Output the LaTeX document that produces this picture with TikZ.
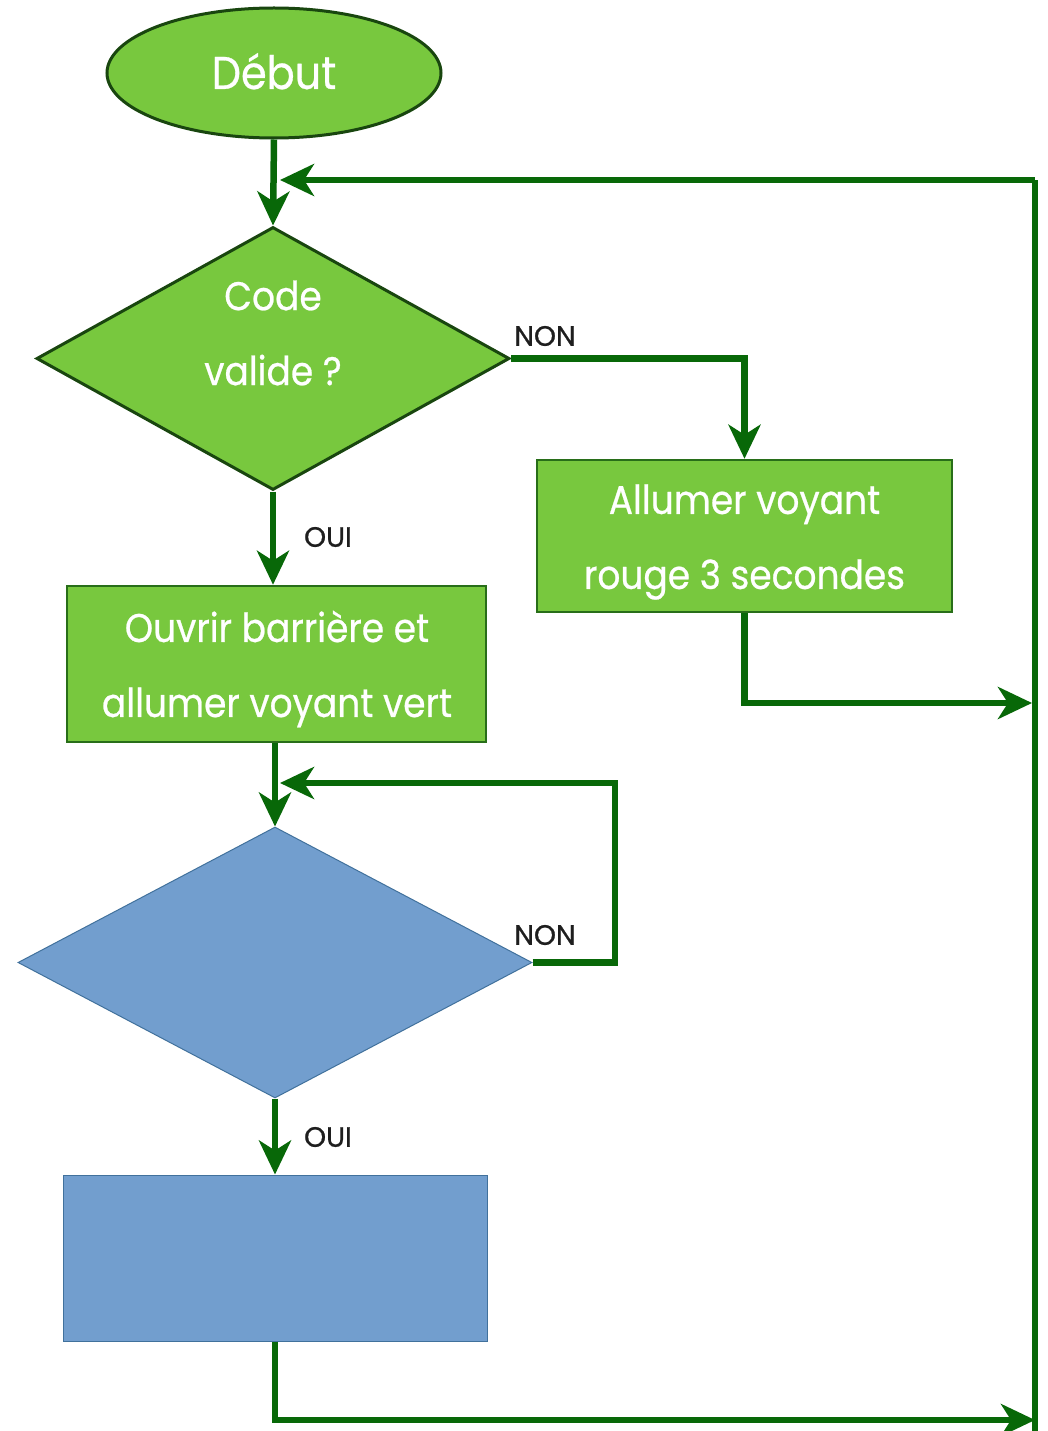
\documentclass[tikz,border=0pt]{standalone}
\usepackage{fontspec}
\setmainfont{Poppins}
\newfontfamily\boxfont[FakeStretch=0.9,FakeBold=0.6]{Poppins}
\newfontfamily\tagfont[FakeBold=0.8]{Poppins}
\usetikzlibrary{shapes.geometric,arrows.meta,calc}

\definecolor{leaf}{RGB}{120,200,62}
\definecolor{leafedge}{RGB}{40,110,25}
\definecolor{darkedge}{RGB}{25,70,15}
\definecolor{flowgreen}{RGB}{8,104,8}
\definecolor{sky}{RGB}{114,158,206}
\definecolor{skyedge}{RGB}{65,113,156}
\definecolor{labelgray}{RGB}{30,30,30}

\tikzset{
  startnode/.style={ellipse, fill=leaf, draw=darkedge, line width=3pt,
    minimum width=334pt, minimum height=130pt, inner sep=0pt,
    text=white, font=\boxfont\fontsize{46}{50}\selectfont},
  testnode/.style={diamond, fill=leaf, draw=darkedge, line width=3pt, inner sep=0pt},
  actnode/.style={rectangle, fill=leaf, draw=leafedge, line width=2.5pt, inner sep=0pt},
  boxtext/.style={text=white, align=center, inner sep=0pt,
    font=\boxfont\fontsize{40}{75}\selectfont},
  blanktest/.style={diamond, fill=sky, draw=skyedge, line width=1pt, inner sep=0pt},
  blankact/.style={rectangle, fill=sky, draw=skyedge, line width=1pt, inner sep=0pt},
  lbl/.style={text=labelgray, inner sep=0pt, font=\tagfont\fontsize{28}{30}\selectfont},
  link/.style={draw=flowgreen, line width=6.5pt},
  flow/.style={link, -{Stealth[length=34pt,width=32pt,inset=10pt]}},
}

\begin{document}
\begin{tikzpicture}[x=1pt,y=-1pt]
  \useasboundingbox (0,0) rectangle (1047,1431);
  \fill[white] (0,0) rectangle (1047,1431);

  % shapes
  \node[startnode] (debut) at (274,73) {\raisebox{4pt}{Début}};
  \node[testnode, minimum width=473pt, minimum height=263pt, aspect=1.8] (code) at (273,358.5) {};
  \node[boxtext] (codetxt) at (273,333) {Code\\valide ?};
  \node[actnode, minimum width=415pt, minimum height=152pt] (rouge) at (744.5,536) {};
  \node[boxtext] (rougetxt) at (744.5,542) {Allumer voyant\\rouge 3 secondes};
  \node[actnode, minimum width=419pt, minimum height=156pt] (ouvrir) at (276.5,664) {};
  \node[boxtext] (ouvrirtxt) at (277,669) {Ouvrir barrière et\\allumer voyant vert};
  \node[blanktest, minimum width=514pt, minimum height=271pt, aspect=1.9] (test2) at (275,962.5) {};
  \node[blankact, minimum width=424pt, minimum height=166pt] (final) at (275,1258) {};

  % junction points
  \coordinate (j1) at (280,180);
  \coordinate (j2) at (280,783);
  \coordinate (rbus) at (1035,180);
  \coordinate (rbot) at (1035,1420);
  \coordinate (rmid) at (1032,703);

  % labels
  \node[lbl] (non1) at (545,336) {NON};
  \node[lbl] (oui1) at (328,537) {OUI};
  \node[lbl] (non2) at (545,935) {NON};
  \node[lbl] (oui2) at (328,1137) {OUI};

  % connectors
  \draw[flow] (debut.south) -- (code.north);
  \draw[flow] (code.east) -- (rouge.north |- code.east) -- (rouge.north);
  \draw[flow] (code.south) -- (code.south |- ouvrir.north);
  \draw[flow] (rouge.south) -- (rouge.south |- rmid) -- (rmid);
  \draw[flow] (ouvrir.south -| test2.north) -- (test2.north);
  \draw[flow] (test2.east) -- (615,962.5) -- (615,783) -- (j2);
  \draw[flow] (test2.south) -- (final.north);
  \draw[flow] (final.south) -- (final.south |- rbot) -- (rbot);
  \draw[link] (1035,1431) -- (rbus);
  \draw[flow] (rbus) -- (j1);
\end{tikzpicture}
\end{document}
